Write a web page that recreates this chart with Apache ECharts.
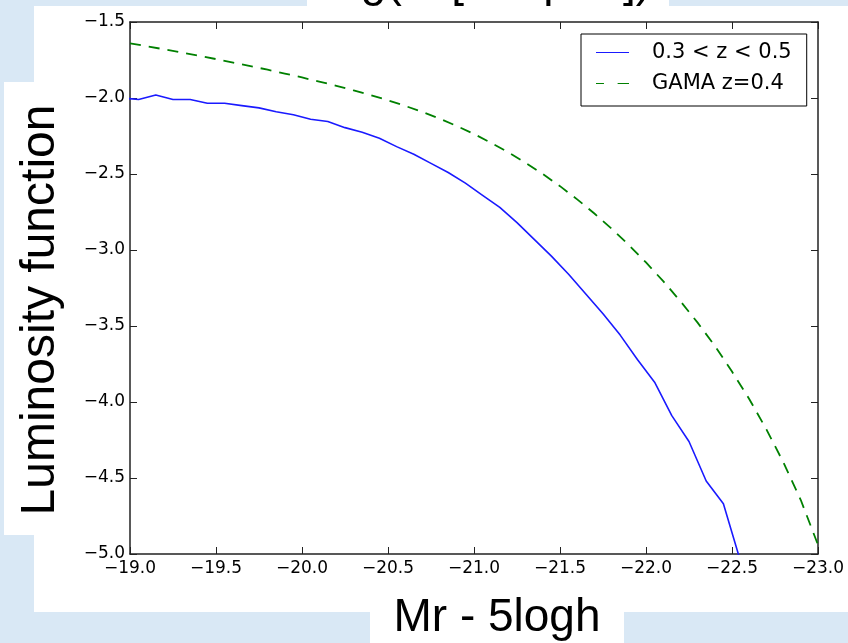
<!DOCTYPE html>
<html>
<head>
<meta charset="utf-8">
<script src="https://cdn.jsdelivr.net/npm/echarts@6/dist/echarts.min.js"></script>
<style>
	html, body { margin: 0; padding: 0; background: #d9e8f5; }
	.panel { position: absolute; background: #fff; }
	#chart { position: absolute; left: 0; top: 0; width: 848px; height: 643px; }
</style>
</head>
<body>
<div class="panel" style="left:34px;top:6px;width:814px;height:606px;"></div>
<div class="panel" style="left:4px;top:82px;width:40px;height:453px;"></div>
<div class="panel" style="left:370px;top:600px;width:254px;height:43px;"></div>
<div class="panel" style="left:307px;top:0px;width:362px;height:10px;"></div>
<div id="chart"></div>
<script>
// 0.3 < z < 0.5 的测量值
var blueMag = [-18.95, -19.05, -19.15, -19.25, -19.35, -19.45, -19.55, -19.65, -19.75, -19.85,
	-19.95, -20.05, -20.15, -20.25, -20.35, -20.45, -20.55, -20.65, -20.75, -20.85,
	-20.95, -21.05, -21.15, -21.25, -21.35, -21.45, -21.55, -21.65, -21.75, -21.85,
	-21.95, -22.05, -22.15, -22.25, -22.35, -22.45, -22.55];
var blueLogPhi = [-2.00, -2.01, -1.98, -2.01, -2.01, -2.035, -2.035, -2.05, -2.065, -2.09,
	-2.11, -2.14, -2.155, -2.195, -2.225, -2.265, -2.32, -2.37, -2.43, -2.49,
	-2.56, -2.64, -2.72, -2.82, -2.93, -3.04, -3.16, -3.29, -3.42, -3.56,
	-3.72, -3.87, -4.09, -4.26, -4.52, -4.67, -5.05];

// GAMA z=0.4
var gamaMag = [-19.0, -19.1, -19.2, -19.3, -19.4, -19.5, -19.6, -19.7, -19.8, -19.9,
	-20.0, -20.1, -20.2, -20.3, -20.4, -20.5, -20.6, -20.7, -20.8, -20.9,
	-21.0, -21.1, -21.2, -21.3, -21.4, -21.5, -21.6, -21.7, -21.8, -21.9,
	-22.0, -22.1, -22.2, -22.3, -22.4, -22.5, -22.6, -22.7, -22.8, -22.9, -23.0];
var gamaLogPhi = [-1.640, -1.660, -1.680, -1.701, -1.722, -1.744, -1.767, -1.790, -1.814, -1.839,
	-1.865, -1.892, -1.920, -1.950, -1.981, -2.015, -2.052, -2.092, -2.136, -2.184,
	-2.237, -2.295, -2.358, -2.426, -2.500, -2.580, -2.667, -2.760, -2.860, -2.967,
	-3.082, -3.205, -3.337, -3.478, -3.630, -3.800, -3.980, -4.180, -4.400, -4.645, -4.940];

var seriesNames = ['0.3 < z < 0.5', 'GAMA z=0.4'];
var titleText = 'log(Φ [h³Mpc⁻³])';
var xLabel = 'Mr - 5logh';
var yLabel = 'Luminosity function';

var fmtTick = function (v) {
	return (v < 0 ? '\u2212' : '') + Math.abs(v).toFixed(1);
};

var pairs = function (xs, ys) {
	var arr = [];
	for (var i = 0; i < xs.length; i++) {
		arr.push([xs[i], ys[i]]);
	}
	return arr;
};

var frameLine = { show: true, lineStyle: { color: '#222', width: 1.5 } };
var tickStyle = { show: true, inside: true, length: 7, lineStyle: { color: '#222', width: 1 } };
var tickFont = { fontFamily: 'DejaVu Sans', fontSize: 17, color: '#000' };

var myChart = echarts.init(document.getElementById('chart'), null, { renderer: 'canvas' });
var option = {
	animation: false,
	backgroundColor: 'transparent',
	grid: { left: 130, top: 22, right: 30, bottom: 89 },
	legend: {
		orient: 'vertical',
		left: 581,
		top: 34,
		padding: [8, 15, 12, 15],
		itemGap: 10,
		itemWidth: 33,
		itemHeight: 2,
		borderColor: '#000',
		borderWidth: 1,
		backgroundColor: '#fff',
		textStyle: { fontFamily: 'DejaVu Sans', fontSize: 21, color: '#000', padding: [0, 0, 0, 18] },
		data: [
			{ name: seriesNames[0], icon: 'path://M0,0H33V1H0Z' },
			{ name: seriesNames[1], icon: 'path://M0,0H7V1H0Z M19,0H29V1H19Z' }
		]
	},
	xAxis: [
		{
			type: 'value', min: -23, max: -19, interval: 0.5, inverse: true,
			axisLine: frameLine, axisTick: tickStyle, splitLine: { show: false },
			axisLabel: Object.assign({ margin: 6, formatter: fmtTick, showMinLabel: true, showMaxLabel: true }, tickFont)
		},
		{
			type: 'value', position: 'top', min: -23, max: -19, interval: 0.5, inverse: true,
			axisLine: frameLine, axisTick: tickStyle, splitLine: { show: false },
			axisLabel: { show: false }
		}
	],
	yAxis: [
		{
			type: 'value', min: -5, max: -1.5, interval: 0.5,
			axisLine: frameLine, axisTick: tickStyle, splitLine: { show: false },
			axisLabel: Object.assign({ margin: 5, formatter: fmtTick, showMinLabel: true, showMaxLabel: true }, tickFont)
		},
		{
			type: 'value', position: 'right', min: -5, max: -1.5, interval: 0.5,
			axisLine: frameLine, axisTick: tickStyle, splitLine: { show: false },
			axisLabel: { show: false }
		}
	],
	graphic: [
		{
			type: 'text', left: 325, top: -40,
			style: { text: titleText, font: '46px "Liberation Sans"', fill: '#000' }
		},
		{
			type: 'text', x: 41, y: 310, rotation: Math.PI / 2,
			style: { text: yLabel, font: '48px "Liberation Sans"', fill: '#000', align: 'center', verticalAlign: 'middle' }
		},
		{
			type: 'text', x: 497, y: 618,
			style: { text: xLabel, font: '46px "Liberation Sans"', fill: '#000', align: 'center', verticalAlign: 'middle' }
		}
	],
	series: [
		{
			name: seriesNames[0], type: 'line', xAxisIndex: 0, yAxisIndex: 0,
			symbol: 'none', showSymbol: false, clip: true,
			lineStyle: { color: '#1a1aff', width: 1.6 },
			itemStyle: { color: '#1a1aff' },
			data: pairs(blueMag, blueLogPhi)
		},
		{
			name: seriesNames[1], type: 'line', xAxisIndex: 0, yAxisIndex: 0,
			symbol: 'none', showSymbol: false, clip: true,
			lineStyle: { color: '#008000', width: 1.8, type: [11, 8] },
			itemStyle: { color: '#008000' },
			data: pairs(gamaMag, gamaLogPhi)
		}
	]
};
myChart.setOption(option);
</script>
</body>
</html>
